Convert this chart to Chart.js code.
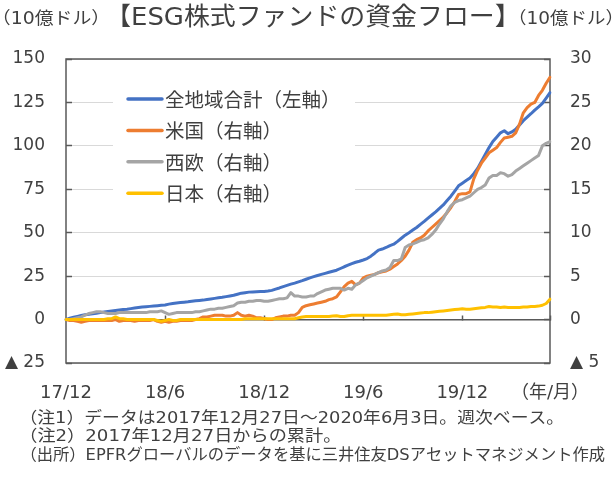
<!DOCTYPE html>
<html>
<head>
<meta charset="utf-8">
<script src="https://cdn.jsdelivr.net/npm/chart.js@4.4.1/dist/chart.umd.min.js"></script>
<style>
  html, body { margin: 0; padding: 0; background: #ffffff; }
  #wrap { width: 615px; height: 477px; }
</style>
</head>
<body>
<div id="wrap"><canvas id="c" width="615" height="477"></canvas></div>
<script>
// ---------------- DATA ----------------
const chartTitle = '【ESG株式ファンドの資金フロー】';
const unitLabel = '（10億ドル）';
const notes = [
  '（注1）データは2017年12月27日～2020年6月3日。週次ベース。',
  '（注2）2017年12月27日からの累計。',
  '（出所）EPFRグローバルのデータを基に三井住友DSアセットマネジメント作成'
];
const seriesNames = ['全地域合計（左軸）', '米国（右軸）', '西欧（右軸）', '日本（右軸）'];
const firstWeek = '2017-12-27';

// 全地域合計 (left axis, 10億ドル) — weekly cumulative
const totalAll = [
  0,0.8,1.3,1.8,2.3,2.8,3.1,3.4,3.7,4.0,
  4.3,4.6,4.9,5.2,5.5,5.8,6.0,6.3,6.6,6.9,
  7.2,7.4,7.6,7.8,8.0,8.2,8.4,8.9,9.3,9.6,
  9.8,10.0,10.2,10.5,10.8,11.0,11.2,11.6,11.9,12.2,
  12.5,12.8,13.2,13.6,14.0,14.6,15.2,15.5,15.8,15.9,
  16.0,16.1,16.2,16.4,16.8,17.5,18.2,19.0,19.7,20.4,
  21.0,21.7,22.4,23.2,24.0,24.7,25.4,26.0,26.6,27.2,
  27.8,28.4,29.4,30.4,31.3,32.2,33.0,33.6,34.3,35.1,
  36.5,38.2,40.0,40.6,41.5,42.6,43.4,45.0,46.8,48.6,
  50.0,51.5,53.0,54.8,56.5,58.4,60.2,62.0,64.0,66.0,
  68.5,71.0,74.0,77.0,78.5,80.0,81.5,84.0,87.0,91.0,
  95.0,99.0,102.5,105.0,107.5,108.7,107.0,108.0,109.5,112.0,
  114.5,116.5,118.5,120.6,122.5,124.5,127.5,130.6
];
// 米国 (right axis)
const usa = [
  0,-0.1,-0.1,-0.2,-0.3,-0.2,-0.1,-0.1,-0.1,-0.1,
  -0.1,-0.1,-0.1,0.0,-0.2,-0.1,-0.1,-0.1,-0.2,-0.1,
  -0.1,-0.1,-0.1,0.0,-0.2,-0.3,-0.2,-0.3,-0.2,-0.2,
  -0.1,-0.1,-0.1,-0.1,0.0,0.1,0.3,0.3,0.4,0.5,
  0.5,0.5,0.4,0.4,0.5,0.8,0.5,0.4,0.5,0.4,
  0.2,0.2,0.1,0.0,0.0,0.2,0.3,0.4,0.4,0.5,
  0.5,0.8,1.4,1.6,1.7,1.8,1.9,2.0,2.1,2.3,
  2.4,2.6,3.2,3.8,4.2,4.4,4.0,4.2,4.8,5.0,
  5.1,5.2,5.4,5.5,5.6,5.8,6.1,6.4,6.8,7.3,
  8.0,8.9,9.2,9.4,9.7,10.2,10.6,11.0,11.4,11.8,
  12.3,12.9,13.6,14.4,14.5,14.5,14.7,16.2,17.2,18.0,
  18.6,19.2,19.5,19.8,20.4,20.9,21.0,21.1,21.5,22.5,
  23.8,24.4,24.8,25.0,25.8,26.4,27.2,27.9
];
// 西欧 (right axis)
const westEurope = [
  0,0.0,0.1,0.2,0.3,0.5,0.7,0.8,0.9,0.9,
  0.8,0.7,0.7,0.7,0.8,0.8,0.8,0.8,0.8,0.8,
  0.8,0.8,0.9,0.9,0.9,1.0,0.8,0.6,0.7,0.8,
  0.8,0.8,0.8,0.8,0.9,0.9,1.0,1.1,1.2,1.2,
  1.3,1.3,1.4,1.5,1.6,1.9,2.0,2.0,2.1,2.1,
  2.2,2.2,2.1,2.1,2.2,2.3,2.4,2.4,2.5,3.1,
  2.7,2.7,2.6,2.6,2.7,2.7,3.0,3.2,3.4,3.5,
  3.6,3.6,3.6,3.4,3.6,3.5,4.0,4.2,4.5,4.8,
  5.0,5.2,5.4,5.6,5.7,6.0,6.8,6.8,7.0,8.3,
  8.6,8.7,8.9,9.1,9.2,9.4,9.8,10.3,11.0,11.6,
  12.4,13.1,13.5,13.7,13.8,14.0,14.2,14.6,15.0,15.2,
  15.5,16.3,16.6,16.6,16.9,16.8,16.5,16.7,17.1,17.4,
  17.7,18.0,18.3,18.6,18.9,20.0,20.3,20.5
];
// 日本 (right axis)
const japan = [
  0,0.0,0.0,0.0,0.0,0.0,0.0,0.0,0.0,0.0,
  0.0,0.1,0.1,0.3,0.1,0.1,0.0,0.0,0.0,0.0,
  0.0,0.0,0.0,0.0,-0.1,-0.2,-0.1,0.0,-0.1,-0.1,
  0.0,0.0,0.0,0.0,0.0,0.0,0.0,0.0,0.0,0.0,
  0.0,0.0,0.0,0.0,0.0,0.0,0.0,0.1,0.1,0.1,
  0.1,0.1,0.1,0.1,0.1,0.1,0.1,0.1,0.1,0.1,
  0.1,0.2,0.3,0.35,0.35,0.35,0.35,0.35,0.35,0.35,
  0.4,0.45,0.35,0.35,0.45,0.5,0.5,0.5,0.5,0.5,
  0.5,0.5,0.5,0.5,0.5,0.55,0.6,0.65,0.55,0.55,
  0.6,0.65,0.7,0.75,0.8,0.8,0.85,0.9,0.95,1.0,
  1.05,1.1,1.15,1.2,1.25,1.2,1.2,1.25,1.3,1.35,
  1.4,1.5,1.45,1.45,1.4,1.45,1.4,1.4,1.4,1.4,
  1.45,1.45,1.5,1.5,1.55,1.65,1.85,2.35
];

// tick labels
const xTickDates = ['2017-12-27', '2018-06-27', '2018-12-26', '2019-06-26', '2019-12-25', '2020-06-03'];
const xTickLabels = ['17/12', '18/6', '18/12', '19/6', '19/12', '（年/月）'];
const yLeftTicks = [-25, 0, 25, 50, 75, 100, 125, 150];
const yLeftLabels = ['▲ 25', '0', '25', '50', '75', '100', '125', '150'];
const yRightTicks = [-5, 0, 5, 10, 15, 20, 25, 30];
const yRightLabels = ['▲ 5', '0', '5', '10', '15', '20', '25', '30'];

// weekly category labels (one per observation)
const weeks = [];
{
  const t0 = Date.parse(firstWeek + 'T00:00:00Z');
  for (let i = 0; i < totalAll.length; i++) {
    weeks.push(new Date(t0 + i * 7 * 86400000).toISOString().slice(0, 10));
  }
}

// ---------------- STYLE ----------------
const FONT = '"DejaVu Sans", "Noto Sans CJK JP", sans-serif';
const CJK = '"Noto Sans CJK JP", "DejaVu Sans", sans-serif';
const TXT = '#404040';
const AX = '#595959';
const GRID = '#D9D9D9';
const colors = ['#4472C4', '#ED7D31', '#A5A5A5', '#FFC000'];

function fitText(ctx, text, left, right, midY, size, family) {
  ctx.save();
  ctx.font = size + 'px ' + family;
  ctx.textAlign = 'left';
  ctx.textBaseline = 'middle';
  ctx.fillStyle = TXT;
  const m = ctx.measureText(text);
  const vis = m.actualBoundingBoxLeft + m.actualBoundingBoxRight;
  const sx = (right - left) / vis;
  ctx.translate(left, midY);
  ctx.scale(sx, 1);
  ctx.fillText(text, m.actualBoundingBoxLeft, 0);
  ctx.restore();
}

const decorPlugin = {
  id: 'decor',
  beforeDatasetsDraw(chart) {
    const ctx = chart.ctx;
    const a = chart.chartArea;
    ctx.save();
    // legend box (white, over gridlines)
    ctx.fillStyle = '#ffffff';
    ctx.fillRect(113, 80, 242, 132);
    chart.data.datasets.forEach((ds, i) => {
      const y = 99 + i * 31.4;
      ctx.strokeStyle = ds.borderColor;
      ctx.lineWidth = 3.5;
      ctx.lineCap = 'round';
      ctx.beginPath();
      ctx.moveTo(128, y);
      ctx.lineTo(162, y);
      ctx.stroke();
      ctx.fillStyle = TXT;
      ctx.font = '19.5px ' + CJK;
      ctx.textAlign = 'left';
      ctx.textBaseline = 'middle';
      ctx.fillText(ds.label, 165, y + 0.5);
    });
    // plot frame
    ctx.strokeStyle = AX;
    ctx.lineWidth = 1.5;
    ctx.strokeRect(a.left, a.top, a.right - a.left, a.bottom - a.top);
    ctx.restore();
  },
  afterDraw(chart) {
    const ctx = chart.ctx;
    fitText(ctx, chartTitle, 121.7, 504, 18.5, 25, FONT);
    fitText(ctx, unitLabel, 4, 98, 19.5, 17, FONT);
    fitText(ctx, unitLabel, 520, 612, 20, 17, FONT);
    fitText(ctx, notes[0], 31.7, 553, 418.5, 16, FONT);
    fitText(ctx, notes[1], 31.7, 330, 437, 16, FONT);
    fitText(ctx, notes[2], 31.7, 605, 455.5, 16, FONT);
  }
};

const seriesData = [totalAll, usa, westEurope, japan];
const axisIds = ['y', 'y2', 'y2', 'y2'];
const drawOrder = [4, 3, 2, 1];

new Chart(document.getElementById('c'), {
  type: 'line',
  data: {
    labels: weeks,
    datasets: seriesNames.map((name, i) => ({
      label: name,
      data: seriesData[i],
      borderColor: colors[i],
      backgroundColor: colors[i],
      yAxisID: axisIds[i],
      order: drawOrder[i],
      borderWidth: 3,
      pointRadius: 0,
      tension: 0,
      borderJoinStyle: 'round',
      borderCapStyle: 'round',
      fill: false
    }))
  },
  options: {
    responsive: false,
    animation: false,
    devicePixelRatio: 1,
    layout: { padding: { top: 59, bottom: 74, left: 0, right: 0 } },
    plugins: {
      legend: { display: false },
      title: { display: false },
      tooltip: { enabled: false }
    },
    scales: {
      x: {
        type: 'category',
        position: 'bottom',
        offset: false,
        grid: { display: false, drawTicks: false },
        border: { display: false },
        ticks: {
          autoSkip: false, maxRotation: 0, minRotation: 0, padding: 20,
          color: TXT, font: { family: FONT, size: 18 },
          callback: (v, i) => {
            const k = xTickDates.indexOf(weeks[i]);
            return k >= 0 ? xTickLabels[k] : '';
          }
        },
        afterFit: (s) => { s.height = 40; }
      },
      xZero: {
        type: 'category',
        position: { y: 0 },
        offset: false,
        grid: {
          display: true, drawOnChartArea: false, drawTicks: true,
          tickLength: -5, tickWidth: 1.5,
          tickColor: (c) => (xTickDates.indexOf(weeks[c.index]) > 0 ? AX : 'rgba(0,0,0,0)')
        },
        border: { display: true, color: AX, width: 1.5 },
        ticks: { display: false, autoSkip: false }
      },
      y: {
        type: 'linear', position: 'left', min: -25, max: 150,
        grid: { color: GRID, lineWidth: 1, tickLength: -6, tickWidth: 1.5, tickColor: AX },
        border: { display: false },
        ticks: {
          stepSize: 25, padding: 27, color: TXT, font: { family: FONT, size: 17 },
          callback: (v) => yLeftLabels[yLeftTicks.indexOf(v)]
        },
        afterFit: (s) => { s.width = 66; }
      },
      y2: {
        type: 'linear', position: 'right', min: -5, max: 30,
        grid: { drawOnChartArea: false, tickLength: -6, tickWidth: 1.5, tickColor: AX },
        border: { display: false },
        ticks: {
          stepSize: 5, padding: 26, color: TXT, font: { family: FONT, size: 17 },
          callback: (v) => yRightLabels[yRightTicks.indexOf(v)]
        },
        afterFit: (s) => { s.width = 65; }
      }
    }
  },
  plugins: [decorPlugin]
});
</script>
</body>
</html>
